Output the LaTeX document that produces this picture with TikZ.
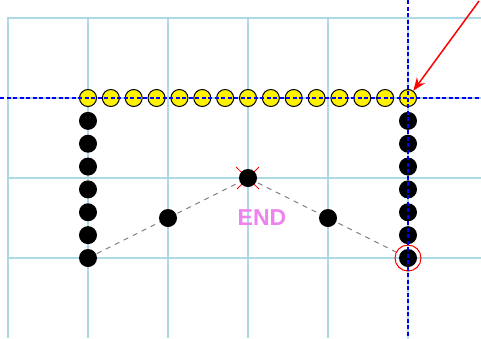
\documentclass[tikz,border=0pt]{standalone}
\usepackage{fontspec}
\setmainfont{Liberation Sans}
\usetikzlibrary{arrows.meta,backgrounds}

\definecolor{gridblue}{RGB}{173,216,230}
\definecolor{endpink}{RGB}{238,130,238}

\tikzset{
  dot/.style={circle,fill=black,minimum size=18pt,inner sep=0pt},
  ydot/.style={dot,fill=yellow,draw=black,line width=1pt,minimum size=17pt},
  guide/.style={blue,line width=1.3pt,dash pattern=on 4pt off 2.5pt},
  gridline/.style={gridblue,line width=2pt},
}

\begin{document}
\begin{tikzpicture}[x=1pt,y=-1pt]
\useasboundingbox (0,0) rectangle (481,338);
\clip (0,0) rectangle (481,338);

% Grid
\foreach \x in {8,88,...,408}
    \draw[gridline] (\x,17) -- (\x,338);
\foreach \y in {18,98,178,258}
    \draw[gridline] (7,\y) -- (481,\y);

% Top row
\foreach \i in {0,...,14}
    \node[ydot] (y\i) at ({88+\i*320/14},98) {};

% Side columns
\foreach \i in {1,...,7} {
    \node[dot] (l\i) at (88,{98+\i*160/7}) {};
    \node[dot] (r\i) at (408,{98+\i*160/7}) {};
}

% Middle points
\node[dot] (m1) at (168,218) {};
\node[dot] (apex) at (248,178) {};
\node[dot] (m2) at (328,218) {};

% Label
\node[text=endpink,font=\bfseries\fontsize{23}{23}\selectfont] (endlbl) at (262,218) {END};

% Links under the points
\begin{pgfonlayer}{background}
\draw[red,line width=0.8pt] (y0.center) -- (y14.center);
\draw[gray,line width=1pt] (y0.center) -- (l7.center);
\draw[gray,line width=1pt,dash pattern=on 5pt off 5pt]
    (l7.center) -- (apex.center) -- (r7.center);
\draw[red,line width=0.8pt]
    ([shift={(-12,-11)}]apex.center) -- ([shift={(11,11)}]apex.center);
\draw[red,line width=0.8pt]
    ([shift={(11,-11)}]apex.center) -- ([shift={(-11,11)}]apex.center);
\end{pgfonlayer}

% Ring on the last point
\node[circle,draw=red,line width=1pt,minimum size=26pt,inner sep=0pt] (ring) at (r7) {};

% Guides
\coordinate (hl) at (0,98);
\coordinate (hr) at (481,98);
\coordinate (vt) at (408,0);
\coordinate (vb) at (408,338);
\draw[guide] (hl) -- (hr);
\draw[guide] (vt) -- (vb);

% Arrow
\coordinate (tip) at (479,1);
\draw[red,line width=1.5pt,-{Stealth[length=13pt,width=10pt]}] (tip) -- (y14);

\end{tikzpicture}
\end{document}
